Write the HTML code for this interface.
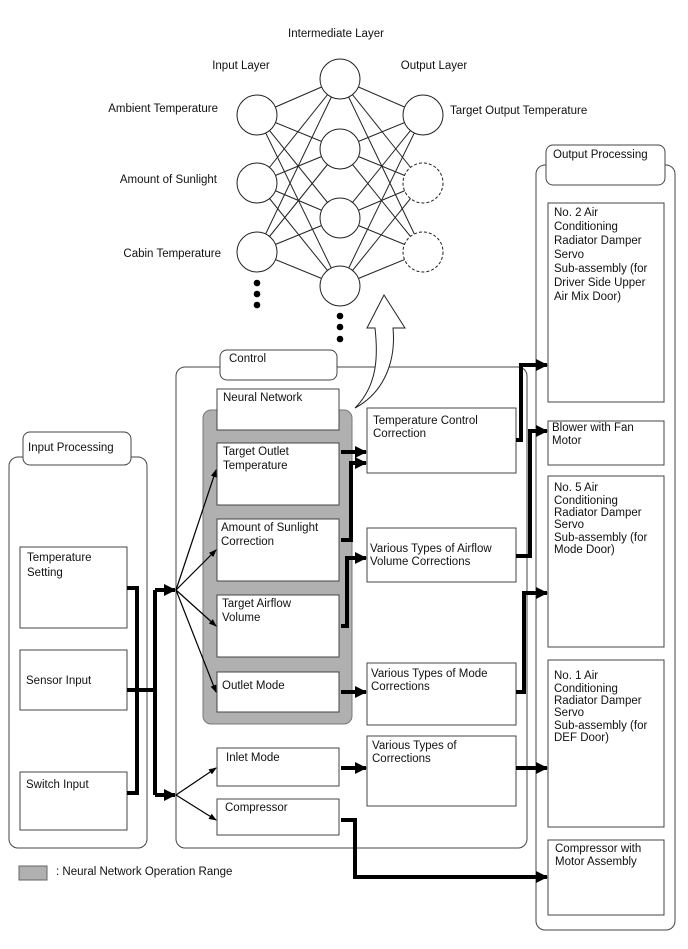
<!DOCTYPE html>
<html><head><meta charset="utf-8"><style>
html,body{margin:0;padding:0;background:#fff}
svg{display:block}
text{font-family:"Liberation Sans",Arial,sans-serif;font-size:11.5px;fill:#111}
</style></head><body>
<svg width="688" height="949" viewBox="0 0 688 949" xmlns="http://www.w3.org/2000/svg">
<defs>
<marker id="ta" markerWidth="8" markerHeight="8" refX="7" refY="4" orient="auto" markerUnits="userSpaceOnUse"><path d="M0,1 L8,4 L0,7 z" fill="#000"/></marker>
<marker id="ba" markerWidth="12" markerHeight="12" refX="11" refY="6" orient="auto" markerUnits="userSpaceOnUse"><path d="M0,0 L12,6 L0,12 z" fill="#000"/></marker>
</defs>
<g stroke="#222" stroke-width="1">
<line x1="257" y1="115" x2="340" y2="79"/><line x1="257" y1="115" x2="340" y2="149"/><line x1="257" y1="115" x2="340" y2="218"/><line x1="257" y1="115" x2="340" y2="286"/>
<line x1="257" y1="183" x2="340" y2="79"/><line x1="257" y1="183" x2="340" y2="149"/><line x1="257" y1="183" x2="340" y2="218"/><line x1="257" y1="183" x2="340" y2="286"/>
<line x1="257" y1="252" x2="340" y2="79"/><line x1="257" y1="252" x2="340" y2="149"/><line x1="257" y1="252" x2="340" y2="218"/><line x1="257" y1="252" x2="340" y2="286"/>
<line x1="340" y1="79" x2="423" y2="115"/><line x1="340" y1="79" x2="423" y2="183"/><line x1="340" y1="79" x2="423" y2="252"/>
<line x1="340" y1="149" x2="423" y2="115"/><line x1="340" y1="149" x2="423" y2="183"/><line x1="340" y1="149" x2="423" y2="252"/>
<line x1="340" y1="218" x2="423" y2="115"/><line x1="340" y1="218" x2="423" y2="183"/><line x1="340" y1="218" x2="423" y2="252"/>
<line x1="340" y1="286" x2="423" y2="115"/><line x1="340" y1="286" x2="423" y2="183"/><line x1="340" y1="286" x2="423" y2="252"/>
</g>
<g fill="#fff" stroke="#222" stroke-width="1">
<circle cx="257" cy="115" r="20"/><circle cx="257" cy="183" r="20"/><circle cx="257" cy="252" r="20"/>
<circle cx="340" cy="79" r="20"/><circle cx="340" cy="149" r="20"/><circle cx="340" cy="218" r="20"/><circle cx="340" cy="286" r="20"/>
<circle cx="423" cy="115" r="20"/>
<circle cx="423" cy="183" r="20" stroke-dasharray="3,2"/><circle cx="423" cy="252" r="20" stroke-dasharray="3,2"/>
</g>
<g fill="#000"><circle cx="257" cy="283" r="3.3"/><circle cx="257" cy="294" r="3.3"/><circle cx="257" cy="305" r="3.3"/>
<circle cx="340" cy="316" r="3.3"/><circle cx="340" cy="327" r="3.3"/><circle cx="340" cy="339" r="3.3"/></g>
<text x="336" y="37" text-anchor="middle">Intermediate Layer</text>
<text x="241" y="69" text-anchor="middle">Input Layer</text>
<text x="434" y="69" text-anchor="middle">Output Layer</text>
<text x="218" y="112" text-anchor="end">Ambient Temperature</text>
<text x="217" y="183" text-anchor="end">Amount of Sunlight</text>
<text x="221" y="257" text-anchor="end">Cabin Temperature</text>
<text x="450" y="114">Target Output Temperature</text>

<g fill="#fff" stroke="#444" stroke-width="1">
<rect x="9" y="457" width="138" height="391" rx="9"/>
<rect x="23" y="432" width="108" height="33" rx="7"/>
<rect x="176" y="367" width="351" height="481" rx="9"/>
<rect x="220" y="350" width="117" height="30" rx="7"/>
<rect x="536" y="165" width="139" height="765" rx="9"/>
<rect x="546" y="145" width="119" height="40" rx="7"/>
</g>
<path d="M355,408 C378,385 378,355 375,328 L367,328 L384,295 L405,328 L393,328 C396,360 385,392 355,408 Z" fill="#fff" stroke="#222" stroke-width="1"/>
<rect x="203" y="410" width="149" height="314" rx="8" fill="#b0b0b0" stroke="#777"/>
<rect x="19" y="866" width="28" height="14" fill="#b0b0b0" stroke="#666"/>
<text x="56" y="875">: Neural Network Operation Range</text>

<g fill="#fff" stroke="#444" stroke-width="1">
<rect x="20" y="547" width="107" height="81"/><rect x="20" y="650" width="107" height="60"/><rect x="20" y="772" width="107" height="58"/>
<rect x="217" y="389" width="122" height="41"/><rect x="217" y="443" width="122" height="62"/><rect x="217" y="519" width="122" height="62"/>
<rect x="217" y="595" width="122" height="62"/><rect x="217" y="672" width="122" height="40"/>
<rect x="217" y="748" width="122" height="38"/><rect x="217" y="799" width="122" height="36"/>
<rect x="367" y="408" width="149" height="65"/><rect x="367" y="528" width="149" height="54"/><rect x="367" y="663" width="149" height="62"/><rect x="367" y="736" width="149" height="70"/>
<rect x="548" y="203" width="116" height="199"/><rect x="548" y="421" width="116" height="44"/><rect x="548" y="476" width="116" height="171"/><rect x="548" y="660" width="116" height="167"/><rect x="548" y="840" width="116" height="75"/>
</g>
<text x="28" y="451">Input Processing</text>
<text x="229" y="362">Control</text>
<text x="553" y="158">Output Processing</text>
<text x="27" y="561">Temperature</text><text x="27" y="576">Setting</text>
<text x="26" y="684">Sensor Input</text>
<text x="26" y="788">Switch Input</text>
<text x="223" y="401">Neural Network</text>
<text x="223" y="455">Target Outlet</text><text x="223" y="469">Temperature</text>
<text x="221" y="531">Amount of Sunlight</text><text x="221" y="545">Correction</text>
<text x="222" y="607">Target Airflow</text><text x="222" y="621">Volume</text>
<text x="222" y="689">Outlet Mode</text>
<text x="226" y="761">Inlet Mode</text>
<text x="225" y="811">Compressor</text>
<text x="373" y="424">Temperature Control</text><text x="373" y="437">Correction</text>
<text x="370" y="552">Various Types of Airflow</text><text x="370" y="565">Volume Corrections</text>
<text x="371" y="677">Various Types of Mode</text><text x="371" y="690">Corrections</text>
<text x="372" y="749">Various Types of</text><text x="372" y="762">Corrections</text>
<g>
<text x="554" y="216">No. 2 Air</text><text x="554" y="230">Conditioning</text><text x="554" y="244">Radiator Damper</text><text x="554" y="258">Servo</text><text x="554" y="272">Sub-assembly (for</text><text x="554" y="286">Driver Side Upper</text><text x="554" y="300">Air Mix Door)</text>
<text x="552" y="431">Blower with Fan</text><text x="552" y="444">Motor</text>
<text x="554" y="491">No. 5 Air</text><text x="554" y="504">Conditioning</text><text x="554" y="516">Radiator Damper</text><text x="554" y="528">Servo</text><text x="554" y="541">Sub-assembly (for</text><text x="554" y="553">Mode Door)</text>
<text x="554" y="679">No. 1 Air</text><text x="554" y="692">Conditioning</text><text x="554" y="704">Radiator Damper</text><text x="554" y="716">Servo</text><text x="554" y="729">Sub-assembly (for</text><text x="554" y="741">DEF Door)</text>
<text x="555" y="852">Compressor with</text><text x="555" y="865">Motor Assembly</text>
</g>

<g fill="none" stroke="#000" stroke-width="4">
<polyline points="127,588 137,588 137,793 127,793"/>
<polyline points="127,690 155,690"/>
<polyline points="155,590 155,795"/>
<line x1="155" y1="590" x2="175" y2="590" marker-end="url(#ba)"/>
<line x1="155" y1="795" x2="175" y2="795" marker-end="url(#ba)"/>
<line x1="341" y1="452" x2="366" y2="452" marker-end="url(#ba)"/>
<polyline points="341,540 351,540 351,463 366,463" marker-end="url(#ba)"/>
<polyline points="341,626 347,626 347,558 366,558" marker-end="url(#ba)"/>
<line x1="341" y1="692" x2="366" y2="692" marker-end="url(#ba)"/>
<line x1="341" y1="768" x2="366" y2="768" marker-end="url(#ba)"/>
<polyline points="341,820 355,820 355,877 547,877" marker-end="url(#ba)"/>
<polyline points="516,440 521,440 521,365 547,365" marker-end="url(#ba)"/>
<polyline points="516,556 530,556 530,431 547,431" marker-end="url(#ba)"/>
<polyline points="516,692 524,692 524,593 547,593" marker-end="url(#ba)"/>
<line x1="516" y1="768" x2="547" y2="768" marker-end="url(#ba)"/>
</g>
<g stroke="#000" stroke-width="1.2" fill="none">
<line x1="176" y1="590" x2="216" y2="470" marker-end="url(#ta)"/>
<line x1="176" y1="590" x2="216" y2="550" marker-end="url(#ta)"/>
<line x1="176" y1="590" x2="216" y2="626" marker-end="url(#ta)"/>
<line x1="176" y1="590" x2="216" y2="692" marker-end="url(#ta)"/>
<line x1="176" y1="795" x2="216" y2="768" marker-end="url(#ta)"/>
<line x1="176" y1="795" x2="216" y2="820" marker-end="url(#ta)"/>
</g>
</svg>
</body></html>
